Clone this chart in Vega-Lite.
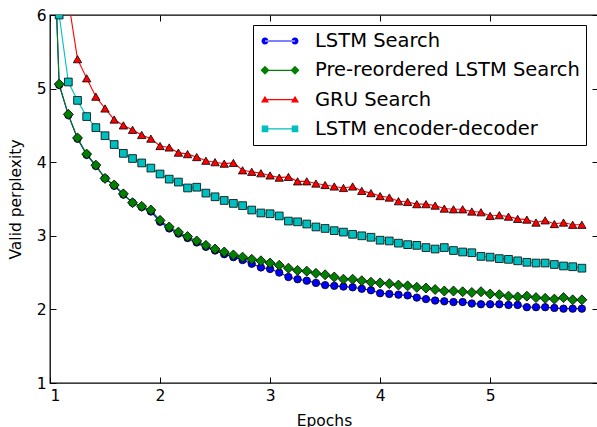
{
  "$schema": "https://vega.github.io/schema/vega-lite/v6.json",
  "autosize": {"type": "none"},
  "padding": {"left": 50, "top": 15, "right": 0, "bottom": 44},
  "width": 548,
  "height": 368,
  "background": "white",
  "config": {
    "view": {"stroke": "black", "strokeWidth": 1.3},
    "font": "DejaVu Sans",
    "axis": {
      "labelFont": "DejaVu Sans", "labelFontSize": 15.5, "labelColor": "black",
      "titleFont": "DejaVu Sans", "titleFontSize": 15.5, "titleFontWeight": "normal", "titleColor": "black",
      "tickColor": "black", "tickWidth": 1, "tickSize": -6, "domain": false, "grid": false
    },
    "legend": {
      "orient": "none", "legendX": 203, "legendY": 10, "title": null,
      "strokeColor": "black", "fillColor": "white", "padding": 6, "cornerRadius": 0,
      "labelFont": "DejaVu Sans", "labelFontSize": 19.5, "labelColor": "black", "labelLimit": 0,
      "labelOffset": 25, "symbolOffset": 11, "rowPadding": 9.3, "symbolSize": 400,
      "symbolStrokeWidth": 0, "symbolOpacity": 1
    }
  },
  "data": {"values": [
    {"series":"LSTM Search","epoch":1,"value":8.5},{"series":"LSTM Search","epoch":1.0833,"value":5.05},{"series":"LSTM Search","epoch":1.1667,"value":4.64},{"series":"LSTM Search","epoch":1.25,"value":4.32},{"series":"LSTM Search","epoch":1.3333,"value":4.10},{"series":"LSTM Search","epoch":1.4167,"value":3.95},{"series":"LSTM Search","epoch":1.5,"value":3.78},{"series":"LSTM Search","epoch":1.5833,"value":3.68},{"series":"LSTM Search","epoch":1.6667,"value":3.56},{"series":"LSTM Search","epoch":1.75,"value":3.45},{"series":"LSTM Search","epoch":1.8333,"value":3.39},{"series":"LSTM Search","epoch":1.9167,"value":3.33},{"series":"LSTM Search","epoch":2,"value":3.19},{"series":"LSTM Search","epoch":2.0833,"value":3.10},{"series":"LSTM Search","epoch":2.1667,"value":3.03},{"series":"LSTM Search","epoch":2.25,"value":2.97},{"series":"LSTM Search","epoch":2.3333,"value":2.91},{"series":"LSTM Search","epoch":2.4167,"value":2.85},{"series":"LSTM Search","epoch":2.5,"value":2.80},{"series":"LSTM Search","epoch":2.5833,"value":2.75},{"series":"LSTM Search","epoch":2.6667,"value":2.71},{"series":"LSTM Search","epoch":2.75,"value":2.67},{"series":"LSTM Search","epoch":2.8333,"value":2.62},{"series":"LSTM Search","epoch":2.9167,"value":2.57},{"series":"LSTM Search","epoch":3,"value":2.55},{"series":"LSTM Search","epoch":3.0833,"value":2.50},{"series":"LSTM Search","epoch":3.1667,"value":2.44},{"series":"LSTM Search","epoch":3.25,"value":2.41},{"series":"LSTM Search","epoch":3.3333,"value":2.39},{"series":"LSTM Search","epoch":3.4167,"value":2.36},{"series":"LSTM Search","epoch":3.5,"value":2.33},{"series":"LSTM Search","epoch":3.5833,"value":2.32},{"series":"LSTM Search","epoch":3.6667,"value":2.31},{"series":"LSTM Search","epoch":3.75,"value":2.30},{"series":"LSTM Search","epoch":3.8333,"value":2.28},{"series":"LSTM Search","epoch":3.9167,"value":2.26},{"series":"LSTM Search","epoch":4,"value":2.22},{"series":"LSTM Search","epoch":4.0833,"value":2.21},{"series":"LSTM Search","epoch":4.1667,"value":2.20},{"series":"LSTM Search","epoch":4.25,"value":2.19},{"series":"LSTM Search","epoch":4.3333,"value":2.16},{"series":"LSTM Search","epoch":4.4167,"value":2.14},{"series":"LSTM Search","epoch":4.5,"value":2.12},{"series":"LSTM Search","epoch":4.5833,"value":2.11},{"series":"LSTM Search","epoch":4.6667,"value":2.10},{"series":"LSTM Search","epoch":4.75,"value":2.10},{"series":"LSTM Search","epoch":4.8333,"value":2.08},{"series":"LSTM Search","epoch":4.9167,"value":2.07},{"series":"LSTM Search","epoch":5,"value":2.07},{"series":"LSTM Search","epoch":5.0833,"value":2.07},{"series":"LSTM Search","epoch":5.1667,"value":2.06},{"series":"LSTM Search","epoch":5.25,"value":2.06},{"series":"LSTM Search","epoch":5.3333,"value":2.03},{"series":"LSTM Search","epoch":5.4167,"value":2.03},{"series":"LSTM Search","epoch":5.5,"value":2.03},{"series":"LSTM Search","epoch":5.5833,"value":2.02},{"series":"LSTM Search","epoch":5.6667,"value":2.01},{"series":"LSTM Search","epoch":5.75,"value":2.01},{"series":"LSTM Search","epoch":5.8333,"value":2.01},
    {"series":"Pre-reordered LSTM Search","epoch":1,"value":8.5},{"series":"Pre-reordered LSTM Search","epoch":1.0833,"value":5.06},{"series":"Pre-reordered LSTM Search","epoch":1.1667,"value":4.65},{"series":"Pre-reordered LSTM Search","epoch":1.25,"value":4.33},{"series":"Pre-reordered LSTM Search","epoch":1.3333,"value":4.11},{"series":"Pre-reordered LSTM Search","epoch":1.4167,"value":3.96},{"series":"Pre-reordered LSTM Search","epoch":1.5,"value":3.78},{"series":"Pre-reordered LSTM Search","epoch":1.5833,"value":3.69},{"series":"Pre-reordered LSTM Search","epoch":1.6667,"value":3.57},{"series":"Pre-reordered LSTM Search","epoch":1.75,"value":3.45},{"series":"Pre-reordered LSTM Search","epoch":1.8333,"value":3.40},{"series":"Pre-reordered LSTM Search","epoch":1.9167,"value":3.35},{"series":"Pre-reordered LSTM Search","epoch":2,"value":3.21},{"series":"Pre-reordered LSTM Search","epoch":2.0833,"value":3.12},{"series":"Pre-reordered LSTM Search","epoch":2.1667,"value":3.05},{"series":"Pre-reordered LSTM Search","epoch":2.25,"value":2.99},{"series":"Pre-reordered LSTM Search","epoch":2.3333,"value":2.93},{"series":"Pre-reordered LSTM Search","epoch":2.4167,"value":2.87},{"series":"Pre-reordered LSTM Search","epoch":2.5,"value":2.82},{"series":"Pre-reordered LSTM Search","epoch":2.5833,"value":2.78},{"series":"Pre-reordered LSTM Search","epoch":2.6667,"value":2.74},{"series":"Pre-reordered LSTM Search","epoch":2.75,"value":2.71},{"series":"Pre-reordered LSTM Search","epoch":2.8333,"value":2.68},{"series":"Pre-reordered LSTM Search","epoch":2.9167,"value":2.66},{"series":"Pre-reordered LSTM Search","epoch":3,"value":2.63},{"series":"Pre-reordered LSTM Search","epoch":3.0833,"value":2.60},{"series":"Pre-reordered LSTM Search","epoch":3.1667,"value":2.56},{"series":"Pre-reordered LSTM Search","epoch":3.25,"value":2.53},{"series":"Pre-reordered LSTM Search","epoch":3.3333,"value":2.52},{"series":"Pre-reordered LSTM Search","epoch":3.4167,"value":2.49},{"series":"Pre-reordered LSTM Search","epoch":3.5,"value":2.47},{"series":"Pre-reordered LSTM Search","epoch":3.5833,"value":2.44},{"series":"Pre-reordered LSTM Search","epoch":3.6667,"value":2.41},{"series":"Pre-reordered LSTM Search","epoch":3.75,"value":2.41},{"series":"Pre-reordered LSTM Search","epoch":3.8333,"value":2.39},{"series":"Pre-reordered LSTM Search","epoch":3.9167,"value":2.37},{"series":"Pre-reordered LSTM Search","epoch":4,"value":2.36},{"series":"Pre-reordered LSTM Search","epoch":4.0833,"value":2.35},{"series":"Pre-reordered LSTM Search","epoch":4.1667,"value":2.33},{"series":"Pre-reordered LSTM Search","epoch":4.25,"value":2.32},{"series":"Pre-reordered LSTM Search","epoch":4.3333,"value":2.30},{"series":"Pre-reordered LSTM Search","epoch":4.4167,"value":2.29},{"series":"Pre-reordered LSTM Search","epoch":4.5,"value":2.27},{"series":"Pre-reordered LSTM Search","epoch":4.5833,"value":2.25},{"series":"Pre-reordered LSTM Search","epoch":4.6667,"value":2.25},{"series":"Pre-reordered LSTM Search","epoch":4.75,"value":2.24},{"series":"Pre-reordered LSTM Search","epoch":4.8333,"value":2.23},{"series":"Pre-reordered LSTM Search","epoch":4.9167,"value":2.24},{"series":"Pre-reordered LSTM Search","epoch":5,"value":2.21},{"series":"Pre-reordered LSTM Search","epoch":5.0833,"value":2.20},{"series":"Pre-reordered LSTM Search","epoch":5.1667,"value":2.18},{"series":"Pre-reordered LSTM Search","epoch":5.25,"value":2.17},{"series":"Pre-reordered LSTM Search","epoch":5.3333,"value":2.18},{"series":"Pre-reordered LSTM Search","epoch":5.4167,"value":2.16},{"series":"Pre-reordered LSTM Search","epoch":5.5,"value":2.15},{"series":"Pre-reordered LSTM Search","epoch":5.5833,"value":2.14},{"series":"Pre-reordered LSTM Search","epoch":5.6667,"value":2.16},{"series":"Pre-reordered LSTM Search","epoch":5.75,"value":2.13},{"series":"Pre-reordered LSTM Search","epoch":5.8333,"value":2.13},
    {"series":"GRU Search","epoch":1,"value":9.0},{"series":"GRU Search","epoch":1.0833,"value":7.5},{"series":"GRU Search","epoch":1.1667,"value":6.2},{"series":"GRU Search","epoch":1.25,"value":5.40},{"series":"GRU Search","epoch":1.3333,"value":5.14},{"series":"GRU Search","epoch":1.4167,"value":4.89},{"series":"GRU Search","epoch":1.5,"value":4.73},{"series":"GRU Search","epoch":1.5833,"value":4.58},{"series":"GRU Search","epoch":1.6667,"value":4.50},{"series":"GRU Search","epoch":1.75,"value":4.44},{"series":"GRU Search","epoch":1.8333,"value":4.37},{"series":"GRU Search","epoch":1.9167,"value":4.32},{"series":"GRU Search","epoch":2,"value":4.22},{"series":"GRU Search","epoch":2.0833,"value":4.20},{"series":"GRU Search","epoch":2.1667,"value":4.13},{"series":"GRU Search","epoch":2.25,"value":4.11},{"series":"GRU Search","epoch":2.3333,"value":4.07},{"series":"GRU Search","epoch":2.4167,"value":4.02},{"series":"GRU Search","epoch":2.5,"value":4.00},{"series":"GRU Search","epoch":2.5833,"value":3.98},{"series":"GRU Search","epoch":2.6667,"value":3.99},{"series":"GRU Search","epoch":2.75,"value":3.89},{"series":"GRU Search","epoch":2.8333,"value":3.87},{"series":"GRU Search","epoch":2.9167,"value":3.85},{"series":"GRU Search","epoch":3,"value":3.82},{"series":"GRU Search","epoch":3.0833,"value":3.79},{"series":"GRU Search","epoch":3.1667,"value":3.80},{"series":"GRU Search","epoch":3.25,"value":3.74},{"series":"GRU Search","epoch":3.3333,"value":3.74},{"series":"GRU Search","epoch":3.4167,"value":3.71},{"series":"GRU Search","epoch":3.5,"value":3.69},{"series":"GRU Search","epoch":3.5833,"value":3.67},{"series":"GRU Search","epoch":3.6667,"value":3.65},{"series":"GRU Search","epoch":3.75,"value":3.67},{"series":"GRU Search","epoch":3.8333,"value":3.61},{"series":"GRU Search","epoch":3.9167,"value":3.58},{"series":"GRU Search","epoch":4,"value":3.54},{"series":"GRU Search","epoch":4.0833,"value":3.52},{"series":"GRU Search","epoch":4.1667,"value":3.47},{"series":"GRU Search","epoch":4.25,"value":3.46},{"series":"GRU Search","epoch":4.3333,"value":3.43},{"series":"GRU Search","epoch":4.4167,"value":3.43},{"series":"GRU Search","epoch":4.5,"value":3.41},{"series":"GRU Search","epoch":4.5833,"value":3.37},{"series":"GRU Search","epoch":4.6667,"value":3.36},{"series":"GRU Search","epoch":4.75,"value":3.36},{"series":"GRU Search","epoch":4.8333,"value":3.33},{"series":"GRU Search","epoch":4.9167,"value":3.32},{"series":"GRU Search","epoch":5,"value":3.27},{"series":"GRU Search","epoch":5.0833,"value":3.28},{"series":"GRU Search","epoch":5.1667,"value":3.26},{"series":"GRU Search","epoch":5.25,"value":3.23},{"series":"GRU Search","epoch":5.3333,"value":3.22},{"series":"GRU Search","epoch":5.4167,"value":3.18},{"series":"GRU Search","epoch":5.5,"value":3.21},{"series":"GRU Search","epoch":5.5833,"value":3.16},{"series":"GRU Search","epoch":5.6667,"value":3.18},{"series":"GRU Search","epoch":5.75,"value":3.15},{"series":"GRU Search","epoch":5.8333,"value":3.15},
    {"series":"LSTM encoder-decoder","epoch":1,"value":9.0},{"series":"LSTM encoder-decoder","epoch":1.0833,"value":6.0},{"series":"LSTM encoder-decoder","epoch":1.1667,"value":5.09},{"series":"LSTM encoder-decoder","epoch":1.25,"value":4.84},{"series":"LSTM encoder-decoder","epoch":1.3333,"value":4.62},{"series":"LSTM encoder-decoder","epoch":1.4167,"value":4.47},{"series":"LSTM encoder-decoder","epoch":1.5,"value":4.36},{"series":"LSTM encoder-decoder","epoch":1.5833,"value":4.24},{"series":"LSTM encoder-decoder","epoch":1.6667,"value":4.12},{"series":"LSTM encoder-decoder","epoch":1.75,"value":4.05},{"series":"LSTM encoder-decoder","epoch":1.8333,"value":3.99},{"series":"LSTM encoder-decoder","epoch":1.9167,"value":3.92},{"series":"LSTM encoder-decoder","epoch":2,"value":3.84},{"series":"LSTM encoder-decoder","epoch":2.0833,"value":3.77},{"series":"LSTM encoder-decoder","epoch":2.1667,"value":3.73},{"series":"LSTM encoder-decoder","epoch":2.25,"value":3.65},{"series":"LSTM encoder-decoder","epoch":2.3333,"value":3.66},{"series":"LSTM encoder-decoder","epoch":2.4167,"value":3.58},{"series":"LSTM encoder-decoder","epoch":2.5,"value":3.53},{"series":"LSTM encoder-decoder","epoch":2.5833,"value":3.48},{"series":"LSTM encoder-decoder","epoch":2.6667,"value":3.44},{"series":"LSTM encoder-decoder","epoch":2.75,"value":3.41},{"series":"LSTM encoder-decoder","epoch":2.8333,"value":3.35},{"series":"LSTM encoder-decoder","epoch":2.9167,"value":3.31},{"series":"LSTM encoder-decoder","epoch":3,"value":3.30},{"series":"LSTM encoder-decoder","epoch":3.0833,"value":3.27},{"series":"LSTM encoder-decoder","epoch":3.1667,"value":3.20},{"series":"LSTM encoder-decoder","epoch":3.25,"value":3.19},{"series":"LSTM encoder-decoder","epoch":3.3333,"value":3.16},{"series":"LSTM encoder-decoder","epoch":3.4167,"value":3.12},{"series":"LSTM encoder-decoder","epoch":3.5,"value":3.10},{"series":"LSTM encoder-decoder","epoch":3.5833,"value":3.07},{"series":"LSTM encoder-decoder","epoch":3.6667,"value":3.05},{"series":"LSTM encoder-decoder","epoch":3.75,"value":3.02},{"series":"LSTM encoder-decoder","epoch":3.8333,"value":3.00},{"series":"LSTM encoder-decoder","epoch":3.9167,"value":2.98},{"series":"LSTM encoder-decoder","epoch":4,"value":2.94},{"series":"LSTM encoder-decoder","epoch":4.0833,"value":2.93},{"series":"LSTM encoder-decoder","epoch":4.1667,"value":2.90},{"series":"LSTM encoder-decoder","epoch":4.25,"value":2.88},{"series":"LSTM encoder-decoder","epoch":4.3333,"value":2.87},{"series":"LSTM encoder-decoder","epoch":4.4167,"value":2.84},{"series":"LSTM encoder-decoder","epoch":4.5,"value":2.82},{"series":"LSTM encoder-decoder","epoch":4.5833,"value":2.84},{"series":"LSTM encoder-decoder","epoch":4.6667,"value":2.80},{"series":"LSTM encoder-decoder","epoch":4.75,"value":2.78},{"series":"LSTM encoder-decoder","epoch":4.8333,"value":2.77},{"series":"LSTM encoder-decoder","epoch":4.9167,"value":2.72},{"series":"LSTM encoder-decoder","epoch":5,"value":2.71},{"series":"LSTM encoder-decoder","epoch":5.0833,"value":2.69},{"series":"LSTM encoder-decoder","epoch":5.1667,"value":2.68},{"series":"LSTM encoder-decoder","epoch":5.25,"value":2.66},{"series":"LSTM encoder-decoder","epoch":5.3333,"value":2.64},{"series":"LSTM encoder-decoder","epoch":5.4167,"value":2.63},{"series":"LSTM encoder-decoder","epoch":5.5,"value":2.63},{"series":"LSTM encoder-decoder","epoch":5.5833,"value":2.61},{"series":"LSTM encoder-decoder","epoch":5.6667,"value":2.59},{"series":"LSTM encoder-decoder","epoch":5.75,"value":2.58},{"series":"LSTM encoder-decoder","epoch":5.8333,"value":2.56}
  ]},
  "layer": [
    {
      "mark": {"type": "line", "clip": true, "strokeWidth": 1.1},
      "encoding": {
        "x": {"field": "epoch", "type": "quantitative", "scale": {"domain": [1, 5.98], "nice": false, "zero": false},
              "axis": {"orient": "bottom", "values": [1, 2, 3, 4, 5], "format": "d", "title": "Epochs", "labelPadding": 11, "titlePadding": 10}},
        "y": {"field": "value", "type": "quantitative", "scale": {"domain": [1, 6], "nice": false, "zero": false},
              "axis": {"orient": "left", "values": [1, 2, 3, 4, 5, 6], "format": "d", "title": "Valid perplexity", "labelPadding": 10, "titlePadding": 13}},
        "color": {
          "field": "series", "type": "nominal",
          "scale": {"domain": ["LSTM Search", "Pre-reordered LSTM Search", "GRU Search", "LSTM encoder-decoder"],
                    "range": ["#0000ff", "#008000", "#ff0000", "#00bfbf"]}
        }
      }
    },
    {
      "transform": [{"filter": {"field": "series", "equal": "LSTM Search"}}],
      "mark": {"type": "point", "shape": "circle", "size": 55, "filled": true, "clip": true, "stroke": "black", "strokeWidth": 0.8, "opacity": 1},
      "encoding": {
        "x": {"field": "epoch", "type": "quantitative", "axis": {"orient": "top", "values": [1, 2, 3, 4, 5], "labels": false, "title": null}},
        "y": {"field": "value", "type": "quantitative", "axis": {"orient": "right", "values": [1, 2, 3, 4, 5, 6], "labels": false, "title": null}},
        "color": {"field": "series", "type": "nominal"}
      }
    },
    {
      "transform": [{"filter": {"field": "series", "equal": "Pre-reordered LSTM Search"}}],
      "mark": {"type": "point", "shape": "diamond", "size": 100, "filled": true, "clip": true, "stroke": "black", "strokeWidth": 0.8, "opacity": 1},
      "encoding": {
        "x": {"field": "epoch", "type": "quantitative", "axis": null},
        "y": {"field": "value", "type": "quantitative", "axis": null},
        "color": {"field": "series", "type": "nominal"}
      }
    },
    {
      "transform": [{"filter": {"field": "series", "equal": "GRU Search"}}],
      "mark": {"type": "point", "shape": "triangle-up", "size": 70, "filled": true, "clip": true, "stroke": "black", "strokeWidth": 0.8, "opacity": 1},
      "encoding": {
        "x": {"field": "epoch", "type": "quantitative", "axis": null},
        "y": {"field": "value", "type": "quantitative", "axis": null},
        "color": {"field": "series", "type": "nominal"}
      }
    },
    {
      "transform": [{"filter": {"field": "series", "equal": "LSTM encoder-decoder"}}],
      "mark": {"type": "point", "shape": "square", "size": 60, "filled": true, "clip": true, "stroke": "black", "strokeWidth": 0.8, "opacity": 1},
      "encoding": {
        "x": {"field": "epoch", "type": "quantitative", "axis": null},
        "y": {"field": "value", "type": "quantitative", "axis": null},
        "color": {"field": "series", "type": "nominal"}
      }
    },
    {
      "transform": [{"filter": "false"}],
      "mark": {"type": "point", "filled": true},
      "encoding": {
        "color": {"field": "series", "type": "nominal"},
        "shape": {"field": "series", "type": "nominal",
                  "scale": {"domain": ["LSTM Search", "Pre-reordered LSTM Search", "GRU Search", "LSTM encoder-decoder"],
                            "range": [
                              "M-1.5,-0.06L1.5,-0.06L1.5,0.06L-1.5,0.06ZM-1.85,0A0.35,0.35 0 1,0 -1.15,0A0.35,0.35 0 1,0 -1.85,0ZM1.15,0A0.35,0.35 0 1,0 1.85,0A0.35,0.35 0 1,0 1.15,0Z",
                              "M-1.5,-0.06L1.5,-0.06L1.5,0.06L-1.5,0.06ZM-1.5,-0.45L-1.05,0L-1.5,0.45L-1.95,0ZM1.5,-0.45L1.95,0L1.5,0.45L1.05,0Z",
                              "M-1.5,-0.06L1.5,-0.06L1.5,0.06L-1.5,0.06ZM-1.5,-0.38L-1.1,0.3L-1.9,0.3ZM1.5,-0.38L1.9,0.3L1.1,0.3Z",
                              "M-1.5,-0.06L1.5,-0.06L1.5,0.06L-1.5,0.06ZM-1.83,-0.33L-1.17,-0.33L-1.17,0.33L-1.83,0.33ZM1.17,-0.33L1.83,-0.33L1.83,0.33L1.17,0.33Z"
                            ]}}
      }
    }
  ],
  "resolve": {"axis": {"x": "independent", "y": "independent"}}
}
